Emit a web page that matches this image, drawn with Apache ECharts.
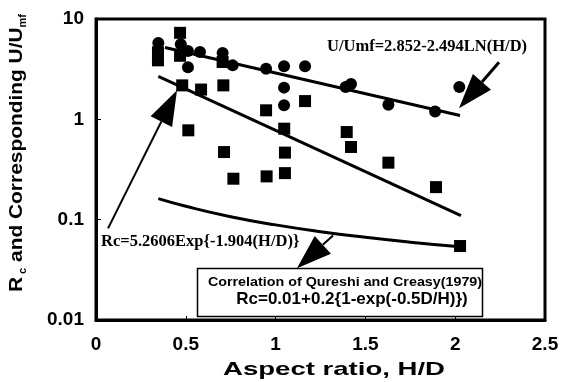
<!DOCTYPE html>
<html><head><meta charset="utf-8">
<script src="https://cdn.jsdelivr.net/npm/echarts@6/dist/echarts.min.js"></script>
<style>html,body{margin:0;padding:0;background:#fff}#c{width:562px;height:382px}</style>
</head><body><div id="c"></div>
<script>
// ---- data ----
const rcPoints = [
  [0.345, 4.66], [0.345, 3.87], [0.468, 7.28], [0.468, 4.3], [0.705, 3.73],
  [0.48, 2.18], [0.585, 1.98], [0.709, 2.18], [0.514, 0.777], [0.713, 0.472],
  [0.765, 0.256], [0.947, 1.23], [0.95, 0.27], [1.048, 0.807], [1.052, 0.466],
  [1.052, 0.291], [1.164, 1.52], [1.396, 0.747], [1.42, 0.53], [1.628, 0.37],
  [1.893, 0.211], [2.027, 0.0546]
];
const uPoints = [
  [0.347, 5.77], [0.472, 5.6], [0.512, 4.8], [0.512, 3.3], [0.579, 4.69],
  [0.705, 4.58], [0.761, 3.45], [0.947, 3.2], [1.047, 3.38], [1.164, 3.38],
  [1.047, 2.07], [1.047, 1.38], [1.39, 2.1], [1.42, 2.25], [1.628, 1.4],
  [1.888, 1.2], [2.023, 2.1]
];
const uFitLine = [[0.384, 5.2], [1.2, 2.4], [2.027, 1.09]];
const rcFitLine = [[0.347, 2.68], [2.032, 0.11]];
const qureshiLine = [[0.347, 0.162], [0.5, 0.136], [0.75, 0.107], [1.0, 0.0887],
  [1.25, 0.0759], [1.5, 0.0667], [1.75, 0.0597], [2.027, 0.0537]];
const xTickLabels = ['0', '0.5', '1', '1.5', '2', '2.5'];
const yTickLabels = ['0.01', '0.1', '1', '10'];

// annotation anchors (data coordinates)
const arrowDefs = [
  { from: [2.244, 3.70], to: [2.021, 1.287], w: 3 },
  { from: [0.067, 0.0819], to: [0.451, 1.95], w: 2 },
  { from: [1.320, 0.0697], to: [1.119, 0.0327], w: 2 }
];

const chart = echarts.init(document.getElementById('c'), null, { renderer: 'canvas' });
const SANS = 'Liberation Sans, Arial, sans-serif';
const SERIF = 'Liberation Serif, Times New Roman, serif';

const option = {
  animation: false,
  backgroundColor: '#fff',
  grid: { left: 96, right: 17, top: 19, bottom: 62, show: true, borderColor: '#000', borderWidth: 3, backgroundColor: 'transparent' },
  xAxis: {
    type: 'value', min: 0, max: 2.5, interval: 0.5,
    axisLine: { lineStyle: { color: '#000', width: 3 } },
    axisTick: { inside: true, length: 4, lineStyle: { color: '#000', width: 1 } },
    splitLine: { show: false },
    axisLabel: { color: '#000', fontFamily: SANS, fontWeight: 'bold', fontSize: 19, margin: 15,
      formatter: v => xTickLabels[Math.round(v / 0.5)] }
  },
  yAxis: {
    type: 'log', logBase: 10, min: 0.01, max: 10,
    axisLine: { lineStyle: { color: '#000', width: 3 } },
    axisTick: { inside: true, length: 5, lineStyle: { color: '#000', width: 1 } },
    minorTick: { show: false },
    splitLine: { show: false },
    axisLabel: { color: '#000', fontFamily: SANS, fontWeight: 'bold', fontSize: 19, margin: 12,
      formatter: v => yTickLabels[Math.round(Math.log10(v)) + 2] }
  },
  series: [
    { type: 'line', data: uFitLine, showSymbol: false, lineStyle: { color: '#000', width: 3 }, z: 3 },
    { type: 'line', data: rcFitLine, showSymbol: false, lineStyle: { color: '#000', width: 3 }, z: 3 },
    { type: 'line', data: qureshiLine, smooth: true, showSymbol: false, lineStyle: { color: '#000', width: 3 }, z: 3 },
    { type: 'scatter', data: uPoints, symbol: 'circle', symbolSize: 12, itemStyle: { color: '#000', opacity: 1 }, z: 4 },
    { type: 'scatter', data: rcPoints, symbol: 'rect', symbolSize: 12, itemStyle: { color: '#000', opacity: 1 }, z: 4 }
  ]
};
chart.setOption(option);

function arrowGraphics(def) {
  const p0 = chart.convertToPixel({ gridIndex: 0 }, def.from);
  const p1 = chart.convertToPixel({ gridIndex: 0 }, def.to);
  const dx = p1[0] - p0[0], dy = p1[1] - p0[1];
  const L = Math.hypot(dx, dy), ux = dx / L, uy = dy / L;
  const headLen = 35, headW = 12;
  const bx = p1[0] - ux * headLen, by = p1[1] - uy * headLen;
  return [
    { type: 'line', shape: { x1: p0[0], y1: p0[1], x2: bx, y2: by }, style: { stroke: '#000', lineWidth: def.w }, z: 10 },
    { type: 'polygon', shape: { points: [[p1[0], p1[1]], [bx - uy * headW, by + ux * headW], [bx + uy * headW, by - ux * headW]] },
      style: { fill: '#000' }, z: 10 }
  ];
}

const graphics = [];
arrowDefs.forEach(d => graphics.push(...arrowGraphics(d)));
graphics.push(
  { type: 'text', x: 327, y: 47, style: { text: 'U/Umf=2.852-2.494LN(H/D)', font: 'bold 16.5px ' + SERIF, fill: '#000', verticalAlign: 'middle' }, z: 11 },
  { type: 'text', x: 101, y: 242, style: { text: 'Rc=5.2606Exp{-1.904(H/D)}', font: 'bold 16.5px ' + SERIF, fill: '#000', verticalAlign: 'middle' }, z: 11 },
  { type: 'rect', shape: { x: 197.5, y: 268.5, width: 285, height: 48 }, style: { fill: '#fff', stroke: '#000', lineWidth: 1.5 }, z: 12 },
  { type: 'text', x: 345, y: 282, scaleX: 1.1, style: { text: 'Correlation of Qureshi and Creasy(1979)', font: 'bold 13px ' + SANS, fill: '#000', align: 'center', verticalAlign: 'middle' }, z: 13 },
  { type: 'text', x: 352, y: 299, style: { text: 'Rc=0.01+0.2{1-exp(-0.5D/H)})', font: 'bold 17px ' + SANS, fill: '#000', align: 'center', verticalAlign: 'middle' }, z: 13 },
  { type: 'text', x: 334, y: 370, scaleX: 1.45, style: { text: 'Aspect ratio, H/D', font: 'bold 19px ' + SANS, fill: '#000', align: 'center', verticalAlign: 'middle' }, z: 13 },
  { type: 'text', x: 17, y: 153, rotation: Math.PI / 2, scaleX: 1.1,
    style: { text: '{a|R}{s| c}{a| and Corresponding U/U}{s|mf}', fill: '#000', align: 'center', verticalAlign: 'middle',
      rich: {
        a: { fontFamily: SANS, fontWeight: 'bold', fontSize: 19, lineHeight: 22, fill: '#000' },
        s: { fontFamily: SANS, fontWeight: 'bold', fontSize: 10, lineHeight: 12, verticalAlign: 'bottom', fill: '#000' }
      } }, z: 13 }
);
chart.setOption({ graphic: graphics });
</script>
</body></html>
